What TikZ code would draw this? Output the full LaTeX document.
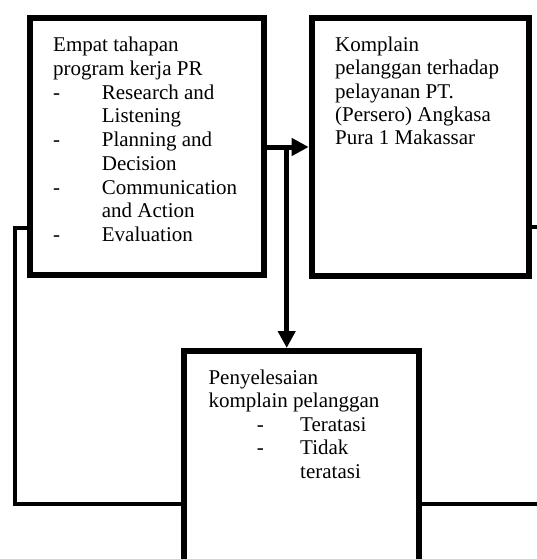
\documentclass[tikz,border=0pt]{standalone}
\usepackage{fontspec}
\setmainfont{Liberation Serif}
\usetikzlibrary{arrows.meta}
\begin{document}
\begin{tikzpicture}[x=1pt,y=-1pt,
  box/.style={draw=black, line width=6pt, rectangle, inner sep=0pt},
  conn/.style={draw=black, line width=5pt},
  fb/.style={draw=black, line width=4pt},
  tipped/.style={-{Triangle[length=17pt,width=17pt]}},
  lbl/.style={anchor=base west, inner sep=0pt, font=\fontsize{21}{23.75}\selectfont}]
\useasboundingbox (0,0) rectangle (537,559);
\fill[white] (0,0) rectangle (537,559);
\clip (0,0) rectangle (537,559);

% boxes
\node[box, minimum width=233.5pt, minimum height=256.7pt] (b1) at (146.75,146.65) {};
\node[box, minimum width=217.3pt, minimum height=257.7pt] (b2) at (420.35,147.15) {};
\node[box, minimum width=235.5pt, minimum height=289pt] (b3) at (301.25,495.5) {};

% texts
\node[lbl] (t1) at (53,51.7) {\parbox[t]{220pt}{\fontsize{21}{23.75}\selectfont
Empat tahapan\\
program kerja PR\\
\makebox[48.7pt][l]{-}Research and\\
\hspace*{48.7pt}Listening\\
\makebox[48.7pt][l]{-}Planning and\\
\hspace*{48.7pt}Decision\\
\makebox[48.7pt][l]{-}Communication\\
\hspace*{48.7pt}and Action\\
\makebox[48.7pt][l]{-}Evaluation}};

\node[lbl] (t2) at (335,51.7) {\parbox[t]{190pt}{\fontsize{21}{23.3}\selectfont
Komplain\\
pelanggan terhadap\\
pelayanan PT.\\
(Persero) Angkasa\\
Pura 1 Makassar}};

\node[lbl] (t3) at (208.3,384.5) {\parbox[t]{205pt}{\fontsize{21}{23.4}\selectfont
Penyelesaian\\
komplain pelanggan\\
\hspace*{48.4pt}\makebox[43.3pt][l]{-}Teratasi\\
\hspace*{48.4pt}\makebox[43.3pt][l]{-}Tidak\\
\hspace*{91.7pt}teratasi}};

% connectors
\coordinate (j) at (286.7,147);
\draw[conn, tipped] (b1.east |- j) -- (b2.west |- j);
\draw[conn, tipped] (j) -- (j |- b3.north);

\coordinate (fl1) at (14.5,227.5);
\coordinate (fl2) at (14.5,503.7);
\draw[fb] (b1.west |- fl1) -- (fl1) -- (fl2) -- (b3.west |- fl2);

\coordinate (fr1) at (560,226.7);
\coordinate (fr2) at (560,504);
\draw[fb] (b2.east |- fr1) -- (fr1) -- (fr2) -- (b3.east |- fr2);
\end{tikzpicture}
\end{document}
